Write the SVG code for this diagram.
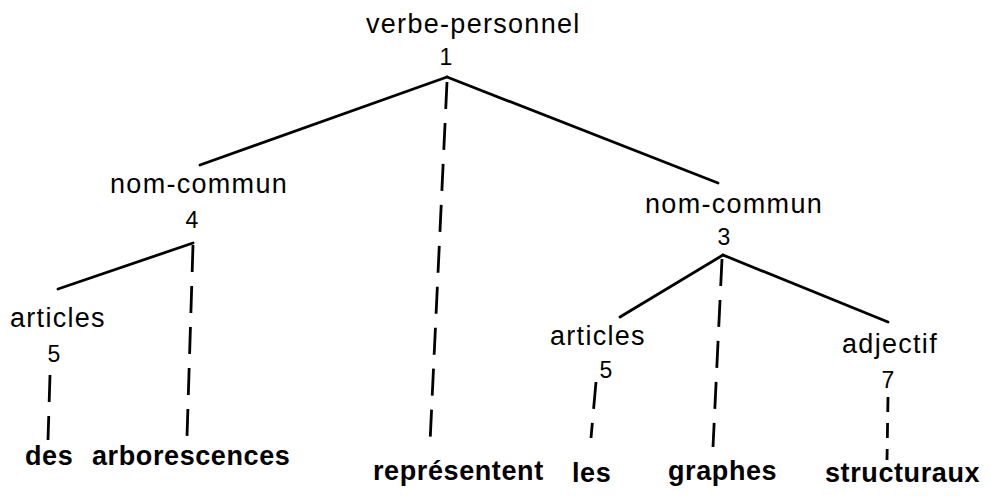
<svg xmlns="http://www.w3.org/2000/svg" width="990" height="498" viewBox="0 0 990 498">
<style>
.lbl{font-family:"Liberation Sans",Arial,sans-serif;font-size:27px;letter-spacing:1.3px;fill:#000}
.num{font-family:"Liberation Sans",Arial,sans-serif;font-size:23px;fill:#000;text-anchor:middle}
.word{font-family:"Liberation Sans",Arial,sans-serif;font-size:27px;font-weight:bold;letter-spacing:0.6px;fill:#000}
.solid{stroke:#000;stroke-width:2.8;fill:none;stroke-linecap:round}
.dash{stroke:#000;stroke-width:2.8;fill:none;stroke-dasharray:27 14}
.dash2{stroke:#000;stroke-width:2.8;fill:none;stroke-dasharray:15 11}
</style>
<rect width="990" height="498" fill="#fff"/>
<g id="connectors">
<line class="solid" x1="447" y1="77" x2="200" y2="165"/>
<line class="solid" x1="447" y1="77" x2="718" y2="183"/>
<line class="dash" x1="447" y1="82" x2="430" y2="443"/>
<line class="solid" x1="193" y1="243" x2="58" y2="289"/>
<line class="dash" x1="193" y1="245" x2="187" y2="437"/>
<line class="dash" x1="50" y1="375" x2="48" y2="440"/>
<line class="solid" x1="723" y1="255" x2="620" y2="317"/>
<line class="solid" x1="723" y1="255" x2="888" y2="322"/>
<line class="dash" x1="722" y1="259" x2="713" y2="447"/>
<line class="dash" x1="596" y1="382" x2="591" y2="438"/>
<line class="dash2" x1="888" y1="397" x2="887" y2="460"/>
</g>
<g id="n1"><text class="lbl" x="366" y="33">verbe-personnel</text><text class="num" x="446" y="65">1</text></g>
<g id="n4"><text class="lbl" x="110" y="193">nom-commun</text><text class="num" x="192" y="228">4</text></g>
<g id="n3"><text class="lbl" x="645" y="213">nom-commun</text><text class="num" x="724" y="245">3</text></g>
<g id="n5a"><text class="lbl" x="10" y="327">articles</text><text class="num" x="54" y="362">5</text></g>
<g id="n5b"><text class="lbl" x="550" y="345">articles</text><text class="num" x="606" y="378">5</text></g>
<g id="n7"><text class="lbl" x="842" y="353">adjectif</text><text class="num" x="888" y="388">7</text></g>
<g id="w-des"><text class="word" x="25" y="465">des</text></g>
<g id="w-arborescences"><text class="word" x="92" y="465">arborescences</text></g>
<g id="w-representent"><text class="word" x="373" y="480">représentent</text></g>
<g id="w-les"><text class="word" x="572" y="482">les</text></g>
<g id="w-graphes"><text class="word" x="668" y="480">graphes</text></g>
<g id="w-structuraux"><text class="word" x="825" y="482">structuraux</text></g>
</svg>
